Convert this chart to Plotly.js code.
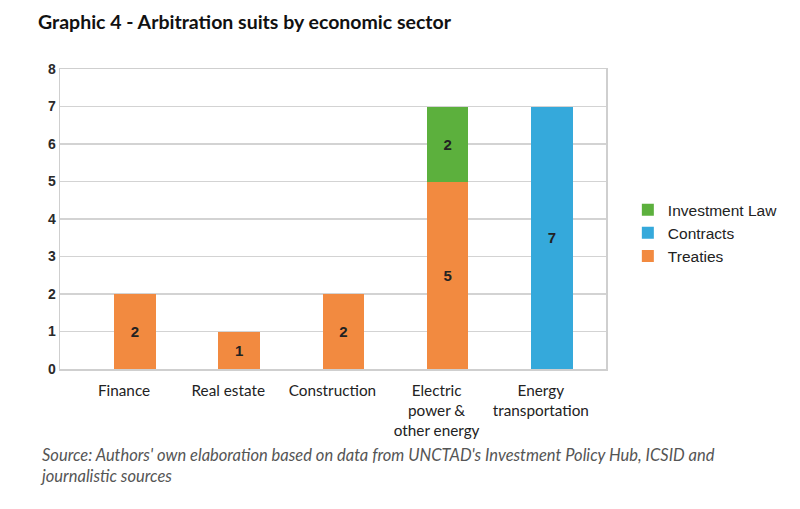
<!DOCTYPE html>
<html>
<head>
<meta charset="utf-8">
<script src="https://cdn.plot.ly/plotly-3.0.1.min.js"></script>
<style>html,body{margin:0;padding:0;background:#fff;}#chart{width:800px;height:509px;}</style>
</head>
<body>
<div id="chart"></div>
<script>
const categories = ["Finance", "Real estate", "Construction", "Electric<br>power &<br>other energy", "Energy<br>transportation"];
const treaties = [2, 1, 2, 5, null];
const contracts = [null, null, null, null, 7];
const investmentLaw = [null, null, null, 2, null];
const yTicks = [0, 1, 2, 3, 4, 5, 6, 7, 8];

const common = {
  type: 'bar',
  x: categories,
  width: 0.4,
  texttemplate: '<b>%{y}</b>',
  textposition: 'inside',
  insidetextanchor: 'middle',
  textfont: {family: 'Liberation Sans, Arial, sans-serif', size: 15, color: '#222'},
  hoverinfo: 'skip'
};

const data = [
  Object.assign({}, common, {name: 'Treaties', y: treaties, marker: {color: '#F28A40'}}),
  Object.assign({}, common, {name: 'Contracts', y: contracts, marker: {color: '#35A9DB'}}),
  Object.assign({}, common, {name: 'Investment Law', y: investmentLaw, marker: {color: '#5CB03D'}})
];

const layout = {
  width: 800, height: 509,
  margin: {l: 60, r: 194, t: 69, b: 140},
  paper_bgcolor: '#fff', plot_bgcolor: '#fff',
  barmode: 'stack',
  title: {text: '<b>Graphic 4 - Arbitration suits by economic sector</b>', x: 38/800, xanchor: 'left', y: 1 - 22/509, yanchor: 'middle',
    font: {family: 'Lato, sans-serif', size: 19.5, color: '#111'}},
  xaxis: {
    type: 'category', range: [-0.72, 4.52],
    showgrid: false, showline: true, mirror: true, linecolor: '#cfcfcf', linewidth: 1.5,
    ticks: '', ticklabelshift: -11, ticklabelstandoff: 7,
    tickfont: {family: 'Lato, sans-serif', size: 15.3, color: '#222'}, fixedrange: true
  },
  yaxis: {
    range: [0, 8], tickvals: yTicks, ticktext: yTicks.map(v => '<b>' + v + '</b>'),
    showgrid: true, gridcolor: '#d3d3d3', gridwidth: 1.5,
    showline: true, mirror: true, linecolor: '#cfcfcf', linewidth: 1.5,
    zeroline: false, ticks: '', ticklabelstandoff: 0,
    tickfont: {family: 'Liberation Sans, Arial, sans-serif', size: 14, color: '#2a2a2a'}
  },
  legend: {
    x: 1.04, xanchor: 'left', y: 0.453, yanchor: 'middle', traceorder: 'reversed',
    font: {family: 'Liberation Sans, Arial, sans-serif', size: 15.5, color: '#222'},
    itemwidth: 30, tracegroupgap: 0, bgcolor: 'rgba(0,0,0,0)'
  },
  showlegend: true,
  annotations: [{
    xref: 'paper', yref: 'paper', x: (38 - 60) / 546, y: (369 - 443) / 300, xanchor: 'left', yanchor: 'top', align: 'left',
    showarrow: false,
    text: "<i>Source: Authors' own elaboration based on data from UNCTAD's Investment Policy Hub, ICSID and<br>journalistic sources</i>",
    font: {family: 'Lato, sans-serif', size: 16.5, color: '#555'}
  }]
};

Plotly.newPlot('chart', data, layout, {displayModeBar: false, staticPlot: true});
</script>
</body>
</html>
